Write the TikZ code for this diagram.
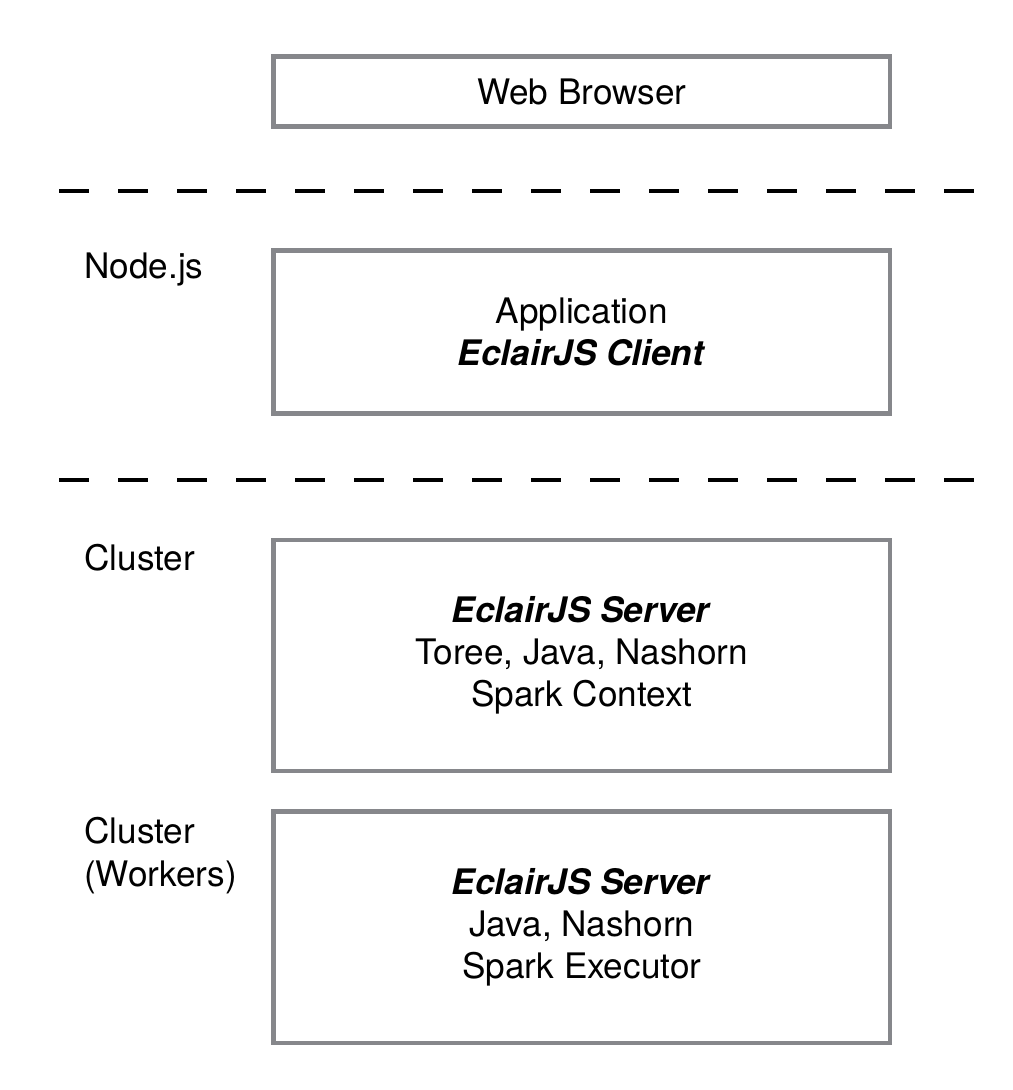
\documentclass[tikz,border=0pt]{standalone}
\usepackage{fontspec}
\setmainfont{TeX Gyre Heros}
\usepackage{xcolor}
\usepackage{tikz}
\definecolor{boxgray}{HTML}{86878B}

\begin{document}
\begin{tikzpicture}[font=\fontsize{25}{30}\selectfont]
    \tikzstyle{layer}=[draw=boxgray, line width=3.5pt, minimum width=15.41cm, align=center, inner sep=0pt]
    \tikzstyle{tier}=[anchor=base west, align=left, inner sep=0pt]
    \tikzstyle{cut}=[line width=3.5pt, dash pattern=on 0.75cm off 0.725cm]
    \useasboundingbox (0,0) rectangle (25.3,-27.25);
    \node[layer, minimum height=1.75cm] (browser) at (14.544, -2.2875){Web Browser};
    \node[layer, minimum height=4.075cm] (client) at (14.544, -8.3){Application\\\textbf{\textit{EclairJS Client}}};
    \node[layer, minimum height=5.775cm] (driver) at (14.544, -16.3875){\textbf{\textit{EclairJS Server}}\\Toree, Java, Nashorn\\Spark Context};
    \node[layer, minimum height=5.79cm] (workers) at (14.544, -23.18){\textbf{\textit{EclairJS Server}}\\Java, Nashorn\\Spark Executor};
    \node[tier] (nodejs) at (2.1, -6.95){Node.js};
    \node[tier] (cluster) at (2.1, -14.25){Cluster};
    \node[tier] (workerlbl) at (2.1, -22.15){Cluster\\(Workers)};
    \coordinate (cut1l) at (1.475, -4.775);
    \coordinate (cut1r) at (24.4, -4.775);
    \coordinate (cut2l) at (1.475, -12.0);
    \coordinate (cut2r) at (24.4, -12.0);
    \draw[cut] (cut1l) -- (cut1r);
    \draw[cut] (cut2l) -- (cut2r);
\end{tikzpicture}
\end{document}
